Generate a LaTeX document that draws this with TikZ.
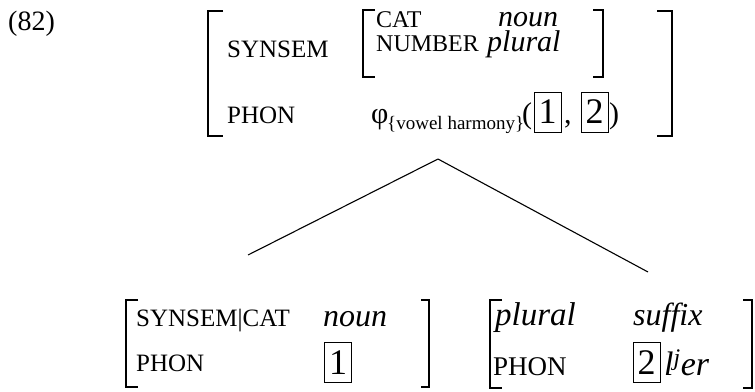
\documentclass[tikz,border=0pt]{standalone}
\usepackage{fontspec}
\setmainfont{Liberation Serif}
\usetikzlibrary{positioning}

\begin{document}
\begin{tikzpicture}[
  x=1pt, y=-1pt,
  txt/.style={anchor=base west, inner sep=0pt, font=\fontsize{25}{27}\selectfont},
  sml/.style={anchor=base west, inner sep=0pt, font=\fontsize{24}{26}\selectfont},
  val/.style={anchor=base west, inner sep=0pt, font=\fontsize{32}{34}\selectfont\itshape},
  sym/.style={anchor=base west, inner sep=0pt, font=\fontsize{30}{32}\selectfont},
  tagbox/.style={draw, line width=1pt, inner sep=0pt, minimum width=27pt, minimum height=40pt,
    font=\fontsize{36}{38}\selectfont},
  arm/.style={line width=1.2pt},
  stem/.style={line width=2.4pt},
]
\useasboundingbox (0,0) rectangle (755,391);

% ---- example number ----
\node[anchor=base west, inner sep=0pt, font=\fontsize{28}{30}\selectfont] (num) at (8,30) {(82)};

% ---- TOP: mother AVM ----
\draw[arm] (223,11) -- (208,11) -- (208,136) -- (223,136);
\draw[stem] (208,12) -- (208,135);
\draw[arm] (657,11) -- (672,11) -- (672,136) -- (657,136);
\draw[stem] (672,12) -- (672,135);
\node[txt] (synsem) at (227,57) {SYNSEM};
\node[txt] (phon) at (227,123) {PHON};
% inner SYNSEM value
\draw[arm] (375,10) -- (363,10) -- (363,77) -- (375,77);
\draw[stem] (363,11) -- (363,76);
\draw[arm] (593,10) -- (603,10) -- (603,77) -- (593,77);
\draw[stem] (603,11) -- (603,76);
\node[sml] (cat) at (376,27) {CAT};
\node[sml] (number) at (376,51) {NUMBER};
\node[val, font=\fontsize{30}{32}\selectfont\itshape] (noun) at (498,26) {noun};
\node[val, font=\fontsize{30}{32}\selectfont\itshape] (plural) at (487,51) {plural};
% PHON value
\node[sym] (phi) at (371,123) {φ};
\node[anchor=base west, inner sep=0pt, font=\fontsize{19}{21}\selectfont] (vh) at (387,129) {\{vowel harmony\}};
\node[sym] (lp) at (522,123) {(};
\node[tagbox] (t1) at (547.5,112) {1};
\node[sym] (cm) at (564,123) {,};
\node[tagbox] (t2) at (594.5,112) {2};
\node[sym] (rp) at (609,123) {)};

% ---- branches ----
\coordinate (apex) at (438,159);
\coordinate (lfoot) at (248,255);
\coordinate (rfoot) at (648,272);
\draw[line width=1.1pt] (apex) -- (lfoot);
\draw[line width=1.1pt] (apex) -- (rfoot);

% ---- BOTTOM LEFT: stem AVM ----
\draw[arm] (138,300) -- (126,300) -- (126,387) -- (138,387);
\draw[stem] (126,301) -- (126,386);
\draw[arm] (421,300) -- (429,300) -- (429,387) -- (421,387);
\draw[stem] (429,301) -- (429,386);
\node[txt] (sc) at (136,326) {SYNSEM|CAT};
\node[val] (noun2) at (323,326) {noun};
\node[txt] (phon2) at (136,371) {PHON};
\node[tagbox] (t3) at (338,362.5) {1};

% ---- BOTTOM RIGHT: suffix AVM ----
\draw[arm] (502,300) -- (490,300) -- (490,388) -- (502,388);
\draw[stem] (490,301) -- (490,387);
\draw[arm] (743,300) -- (752,300) -- (752,388) -- (743,388);
\draw[stem] (752,301) -- (752,387);
\node[val, font=\fontsize{33}{35}\selectfont\itshape] (plural2) at (495,325) {plural};
\node[val] (suffix) at (633,325) {suffix};
\node[txt, font=\fontsize{27}{29}\selectfont] (phon3) at (493,375) {PHON};
\node[tagbox] (t4) at (646.5,362.5) {2};
\node[val, font=\fontsize{34}{36}\selectfont\itshape] (ler) at (664,375) {l\textsuperscript{j}er};
\end{tikzpicture}
\end{document}
